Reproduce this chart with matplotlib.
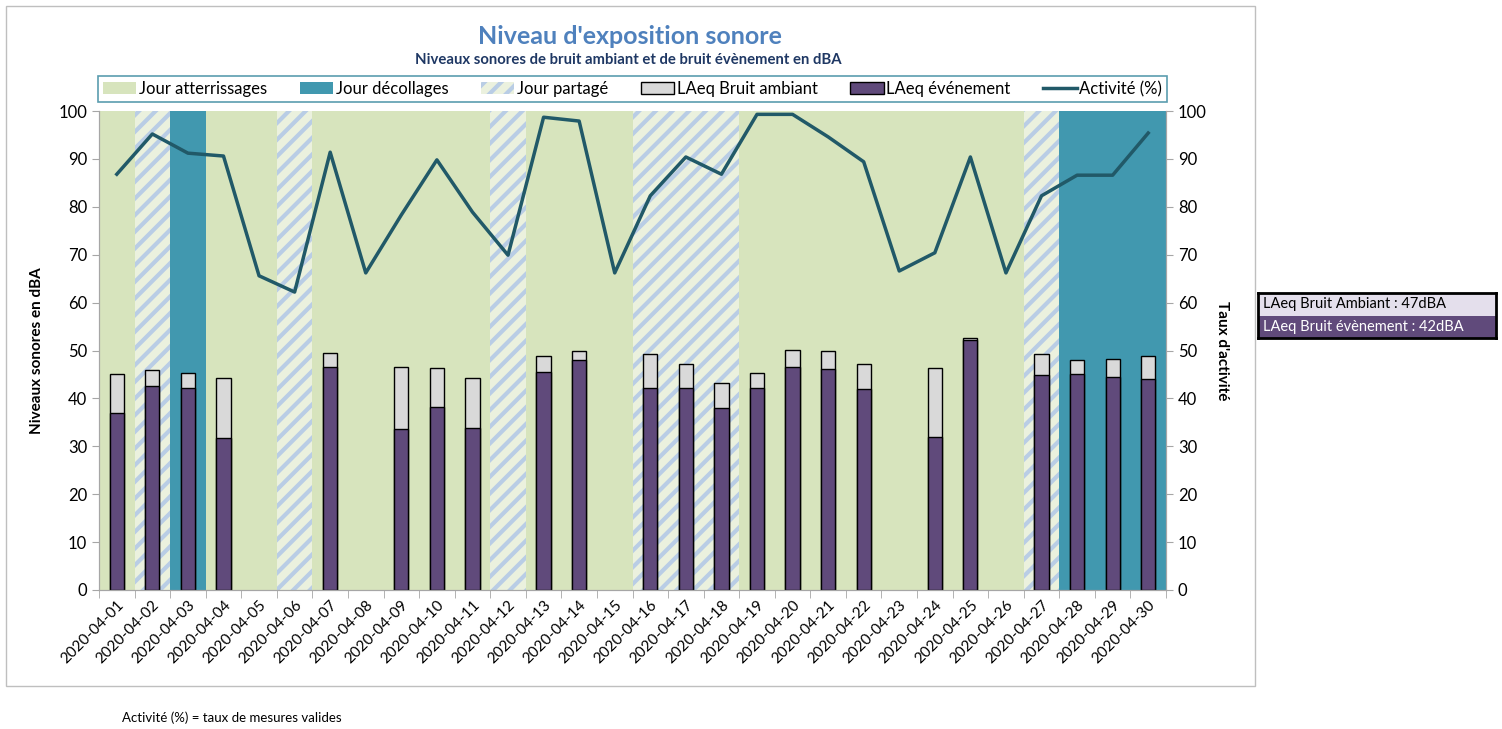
import matplotlib.pyplot as plt
import numpy as np
from matplotlib.patches import Patch, Rectangle
from matplotlib.lines import Line2D

plt.rcParams['font.family'] = ['Lato', 'DejaVu Sans']
plt.rcParams['hatch.linewidth'] = 3.0

# Data
dates = ['2020-04-%02d' % d for d in range(1, 31)]
# day type: A = atterrissages, D = décollages, P = partagé
day_type = ['A', 'P', 'D', 'A', 'A', 'P', 'A', 'A', 'A', 'A',
            'A', 'P', 'A', 'A', 'A', 'P', 'P', 'P', 'A', 'A',
            'A', 'A', 'A', 'A', 'A', 'A', 'P', 'D', 'D', 'D']
laeq_ambiant = [45.0, 45.9, 45.3, 44.2, np.nan, np.nan, 49.4, np.nan, 46.5, 46.4,
                44.3, np.nan, 48.8, 50.0, np.nan, 49.2, 47.2, 43.3, 45.4, 50.1,
                49.8, 47.2, np.nan, 46.4, 52.7, np.nan, 49.2, 48.0, 48.2, 48.8]
laeq_evenement = [37.0, 42.5, 42.2, 31.7, np.nan, np.nan, 46.5, np.nan, 33.7, 38.3,
                  33.9, np.nan, 45.6, 48.0, np.nan, 42.2, 42.2, 37.9, 42.2, 46.6,
                  46.2, 42.0, np.nan, 31.9, 52.2, np.nan, 44.9, 45.1, 44.4, 44.0]
activite = [86.8, 95.2, 91.2, 90.6, 65.6, 62.2, 91.4, 66.2, 78.3, 89.8,
            78.9, 69.9, 98.7, 97.9, 66.2, 82.3, 90.4, 86.8, 99.3, 99.3,
            94.6, 89.4, 66.6, 70.4, 90.4, 66.2, 82.3, 86.6, 86.6, 95.4]

# Colors
green = '#D7E4BD'
teal = '#4198AF'
hatch_bg = '#EBF1DE'
hatch_fg = '#B9CDE5'
grey_bar = '#D9D9D9'
purple = '#604A7B'
line_color = '#215968'
axis_grey = '#A6A6A6'

fig = plt.figure(figsize=(15.02, 7.29), dpi=100)

# outer chart frame
fig.patches.append(Rectangle((6 / 1502, 1 - 686 / 729), (1255 - 6) / 1502, (686 - 6) / 729,
                             transform=fig.transFigure, fill=False,
                             edgecolor='#BFBFBF', linewidth=1))

ax = fig.add_axes([99 / 1502, 1 - 590 / 729, (1166 - 99) / 1502, (590 - 111) / 729])
ax2 = ax.twinx()

x = np.arange(len(dates))

# day-type background
for i, t in enumerate(day_type):
    if t == 'A':
        ax.axvspan(i, i + 1, facecolor=green, linewidth=0, zorder=0)
    elif t == 'D':
        ax.axvspan(i, i + 1, facecolor=teal, linewidth=0, zorder=0)
    else:
        ax.axvspan(i, i + 1, facecolor=hatch_bg, edgecolor=hatch_fg, hatch='//',
                   linewidth=0, zorder=0)

# bars
ax.bar(x + 0.5, laeq_ambiant, width=0.4, color=grey_bar, edgecolor='black', linewidth=1, zorder=2)
ax.bar(x + 0.5, laeq_evenement, width=0.4, color=purple, edgecolor='black', linewidth=1, zorder=3)

# activity line
ax2.plot(x + 0.5, activite, color=line_color, linewidth=2.5, zorder=4)

for a in (ax, ax2):
    a.set_xlim(0, 30)
    a.set_ylim(0, 100)
    a.set_yticks(np.arange(0, 101, 10))
    for s in a.spines.values():
        s.set_color(axis_grey)
    a.spines['top'].set_visible(False)
    a.tick_params(axis='y', colors=axis_grey, labelcolor='black', labelsize=12, length=5)

ax.set_xticks(x + 0.5)
ax.set_xticklabels(dates, rotation=45, ha='right', rotation_mode='anchor', fontsize=11)
ax.set_xticks(np.arange(0, 31), minor=True)
ax.tick_params(axis='x', which='major', length=0, pad=6)
ax.tick_params(axis='x', which='minor', length=6, color=axis_grey)

ax.set_ylabel('Niveaux sonores en dBA', fontsize=11, fontweight='bold', labelpad=10)
ax2.set_ylabel("Taux d'activité", fontsize=11, fontweight='bold', rotation=270, labelpad=16)

# titles
fig.text(630 / 1502, 1 - 36 / 729, "Niveau d'exposition sonore", ha='center', va='center',
         fontsize=18, fontweight='bold', color='#4F81BD')
fig.text(628 / 1502, 1 - 60 / 729, 'Niveaux sonores de bruit ambiant et de bruit évènement en dBA',
         ha='center', va='center', fontsize=10.7, fontweight='bold', color='#1F3864')

# legend
handles = [
    Patch(facecolor=green, edgecolor='none', label='Jour atterrissages'),
    Patch(facecolor=teal, edgecolor='none', label='Jour décollages'),
    Patch(facecolor=hatch_bg, edgecolor=hatch_fg, hatch='//', linewidth=0, label='Jour partagé'),
    Patch(facecolor=grey_bar, edgecolor='black', label='LAeq Bruit ambiant'),
    Patch(facecolor=purple, edgecolor='black', label='LAeq événement'),
    Line2D([], [], color=line_color, linewidth=2.5, label='Activité (%)'),
]
leg = fig.legend(handles=handles, loc='lower left', ncol=6, mode='expand',
                 bbox_to_anchor=(98 / 1502, 1 - 102 / 729, (1167 - 98) / 1502, 29 / 729),
                 fontsize=12, frameon=True, fancybox=False, borderaxespad=0,
                 handlelength=2.0, handletextpad=0.15, columnspacing=1.0, borderpad=0.3)
leg.get_frame().set_edgecolor('#31849B')
leg.get_frame().set_linewidth(1.2)

# summary box on the right
bx = fig.add_axes([1258 / 1502, 1 - 338 / 729, 238 / 1502, 45 / 729])
bx.set_xlim(0, 1)
bx.set_ylim(0, 2)
bx.set_xticks([])
bx.set_yticks([])
bx.add_patch(Rectangle((0, 1), 1, 1, facecolor='#E4DFEC', edgecolor='none'))
bx.add_patch(Rectangle((0, 0), 1, 1, facecolor=purple, edgecolor='none'))
bx.text(0.02, 1.5, 'LAeq Bruit Ambiant : 47dBA', va='center', ha='left', fontsize=10.5, color='black')
bx.text(0.02, 0.5, 'LAeq Bruit évènement : 42dBA', va='center', ha='left', fontsize=10.5, color='white')
for s in bx.spines.values():
    s.set_color('black')
    s.set_linewidth(2)

fig.text(122 / 1502, 1 - 718 / 729, 'Activité (%) = taux de mesures valides', ha='left', va='center',
         fontsize=9.5)

plt.savefig('out.png', dpi=100)
plt.close()
